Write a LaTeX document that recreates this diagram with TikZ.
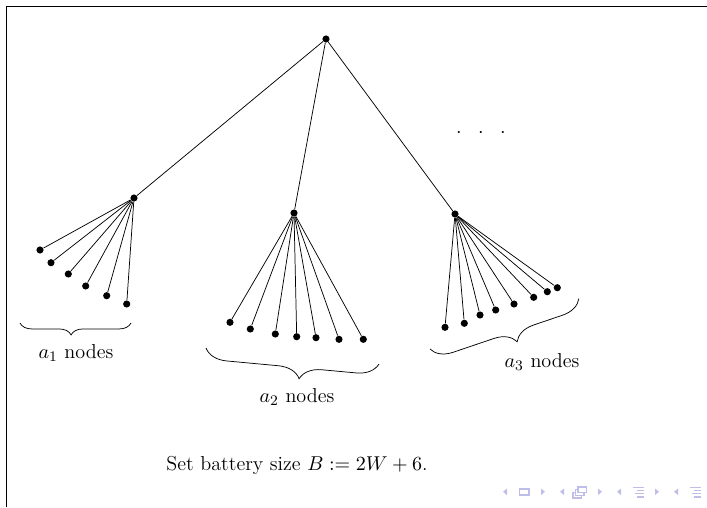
\documentclass[tikz,border=0pt]{standalone}
\usetikzlibrary{decorations.pathreplacing}
\definecolor{navblue}{RGB}{190,190,232}

\begin{document}
\begin{tikzpicture}[x=0.546pt, y=-0.546pt, line width=0.4pt,
    vertex/.style={circle, fill=black, inner sep=0pt, minimum size=3.9pt},
    lbl/.style={font=\fontsize{11}{13}\selectfont},
    bracebelow/.style={decorate, decoration={brace, mirror, amplitude=#1}}]
  \useasboundingbox (0,0) rectangle (707,507);
  % Frame
  \draw[line width=0.8pt] (6.7,507) -- (6.7,6.3) -- (707,6.3);

  % Root and its three children
  \node[vertex] (root) at (326,39) {};
  \node[vertex] (A) at (134,198) {};
  \node[vertex] (B) at (294,213) {};
  \node[vertex] (C) at (455,214) {};
  \foreach \c in {A,B,C}
      \draw (root) -- (\c);

  % Leaves below A
  \foreach \x/\y [count=\i] in {40/250, 51/262.7, 68.3/274, 85.7/286, 106.7/295.7, 126.7/304} {
          \node[vertex] (leafA\i) at (\x,\y) {};
          \draw (A) -- (leafA\i);
      }
  % Leaves below B
  \foreach \x/\y [count=\i] in {230/322.3, 250.3/329, 275.3/334, 296.7/336.7, 316/337.7, 339/339.3, 363.3/339.3} {
          \node[vertex] (leafB\i) at (\x,\y) {};
          \draw (B) -- (leafB\i);
      }
  % Leaves below C
  \foreach \x/\y [count=\i] in {445/327.3, 464.3/323.3, 480/315, 495.7/310, 514/304, 533.7/297.3, 547.3/291.7, 557.3/287.7} {
          \node[vertex] (leafC\i) at (\x,\y) {};
          \draw (C) -- (leafC\i);
      }

  % Braces
  \coordinate (braceA1) at (20,323);
  \coordinate (braceA2) at (131,323);
  \coordinate (braceB1) at (206,348);
  \coordinate (braceB2) at (379,364);
  \coordinate (braceC1) at (430,349);
  \coordinate (braceC2) at (579,298.5);
  \draw[bracebelow=6.5pt, decoration={aspect=0.46}] (braceA1) -- (braceA2);
  \draw[bracebelow=12pt, decoration={aspect=0.55}] (braceB1) -- (braceB2);
  \draw[bracebelow=11.5pt, decoration={aspect=0.54}] (braceC1) -- (braceC2);

  % Labels
  \node[lbl] (labelA) at (76,353) {$a_1$ nodes};
  \node[lbl] (labelB) at (297,397) {$a_2$ nodes};
  \node[lbl] (labelC) at (542,362) {$a_3$ nodes};
  \node[lbl] (moredots) at (481,133) {$\cdot$\hspace{9pt}$\cdot$\hspace{9pt}$\cdot$};
  \node[lbl] (battery) at (297,465) {Set battery size $B := 2W + 6$.};

  % Navigation symbols
  \foreach \x in {503, 560, 617, 674}
      \fill[navblue] (\x+4,488.5) -- (\x,491.7) -- (\x+4,495) -- cycle;
  \foreach \x in {541, 598, 655}
      \fill[navblue] (\x,488.5) -- (\x+4,491.7) -- (\x,495) -- cycle;
  \draw[navblue, line width=0.6pt] (519.5,489) rectangle (529,495);
  \foreach \d in {0, 2.5, 5}
      \filldraw[navblue, fill=white, line width=0.6pt] (573+\d,492.5-\d*1.1) rectangle (581.5+\d,498-\d*1.1);
  \foreach \x in {633, 690} {
          \draw[navblue, line width=0.9pt] (\x,487.5) -- (\x+11,487.5);
          \draw[navblue, line width=0.6pt] (\x+4,490.8) -- (\x+11,490.8);
          \draw[navblue, line width=0.6pt] (\x+2,493.8) -- (\x+11,493.8);
          \draw[navblue, line width=0.6pt] (\x+4,497) -- (\x+11,497);
      }
\end{tikzpicture}
\end{document}
